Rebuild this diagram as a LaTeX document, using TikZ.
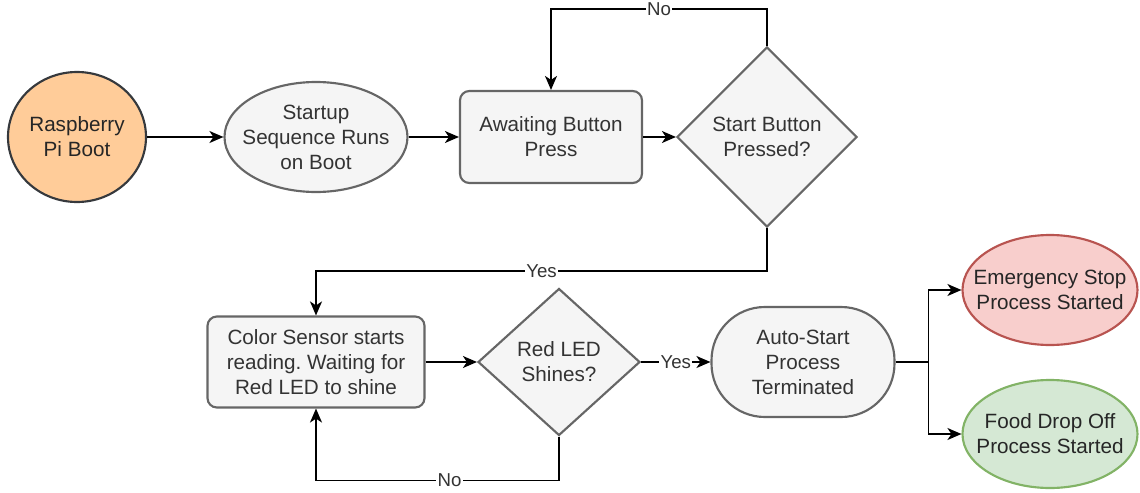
\documentclass[tikz,border=0pt]{standalone}
\usepackage{fontspec}
\setmainfont{Liberation Sans}
\usetikzlibrary{shapes.geometric,arrows.meta}
\definecolor{gfill}{HTML}{F5F5F5}
\definecolor{gline}{HTML}{666666}
\definecolor{gtext}{HTML}{333333}
\definecolor{ofill}{HTML}{FFCC99}
\definecolor{oline}{HTML}{36393D}
\definecolor{rfill}{HTML}{F8CECC}
\definecolor{rline}{HTML}{B85450}
\definecolor{grfill}{HTML}{D5E8D4}
\definecolor{grline}{HTML}{82B366}
\frenchspacing
\begin{document}
\begin{tikzpicture}[x=0.75pt,y=-0.75pt,
  shp/.style={inner sep=0pt, line width=1.6pt, draw=gline, fill=gfill},
  txt/.style={label={[font=\fontsize{15.5}{18.75}\selectfont,align=center,text=gtext]center:#1}},
  dtxt/.style={label={[font=\fontsize{15.5}{18.75}\selectfont,align=center,text=black!85]center:#1}},
  rbox/.style={shp, rectangle, rounded corners=7pt},
  oval/.style={shp, ellipse},
  dia/.style={shp, diamond},
  conn/.style={line width=1.1pt, draw=black, -{Stealth[length=10.5pt,width=9pt,inset=3pt]}},
  lbl/.style={fill=white, inner sep=1pt, text=gtext, font=\fontsize{14}{16}\selectfont}
]
\useasboundingbox (0,0) rectangle (1140,493);

\node[oval, draw=oline, fill=ofill, minimum width=103.5pt, minimum height=97.5pt, dtxt={Raspberry\\Pi Boot}] (rasp) at (77,137) {};
\node[oval, minimum width=137.25pt, minimum height=82.5pt, txt={Startup\\Sequence Runs\\on Boot}] (startup) at (316,137) {};
\node[rbox, minimum width=136.5pt, minimum height=69pt, txt={Awaiting Button\\Press}] (await) at (551,137) {};
\node[dia, minimum width=135pt, minimum height=135pt, txt={Start Button\\Pressed?}] (startd) at (767,137) {};
\node[rbox, minimum width=162.75pt, minimum height=68.25pt, txt={Color Sensor starts\\reading. Waiting for\\Red LED to shine}] (color) at (316,362) {};
\node[dia, minimum width=121.5pt, minimum height=110.25pt, txt={Red LED\\Shines?}] (redd) at (559,362) {};
\node[shp, rectangle, rounded corners=40pt, minimum width=137.25pt, minimum height=82.5pt, txt={Auto-Start\\Process\\Terminated}] (auto) at (803,362) {};
\node[oval, draw=rline, fill=rfill, minimum width=131.25pt, minimum height=82.5pt, dtxt={Emergency Stop\\Process Started}] (emerg) at (1050,290) {};
\node[oval, draw=grline, fill=grfill, minimum width=131.25pt, minimum height=81pt, dtxt={Food Drop Off\\Process Started}] (food) at (1050,434) {};

\draw[conn] (rasp.east) -- (startup.west);
\draw[conn] (startup.east) -- (await.west);
\draw[conn] (await.east) -- (startd.west);
\draw[conn] (startd.north) -- ++(0,-37) coordinate (n1) -| node[lbl,pos=0.25]{No} (await.north);
\draw[conn] (startd.south) -- ++(0,43) coordinate (y1) -| node[lbl,pos=0.25]{Yes} (color.north);
\draw[conn] (color.east) -- (redd.west);
\draw[conn] (redd.south) -- ++(0,44) coordinate (n2) -| node[lbl,pos=0.225]{No} (color.south);
\draw[conn] (redd.east) -- node[lbl]{Yes} (auto.west);
\draw[conn] (auto.east) -- ++(33,0) coordinate (br) |- (emerg.west);
\draw[conn] (br) |- (food.west);
\end{tikzpicture}
\end{document}
